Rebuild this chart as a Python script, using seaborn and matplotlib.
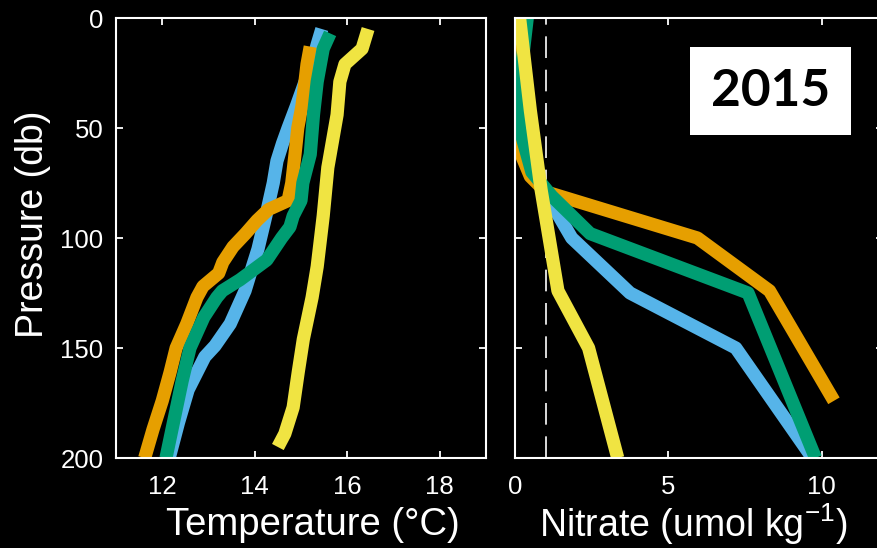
import matplotlib
matplotlib.use("Agg")
import matplotlib.pyplot as plt
from matplotlib.patches import Rectangle
import numpy as np
import pandas as pd
import seaborn as sns

# temperature profiles (pressure in db, temp in degC)
blue_tp = [5, 12, 20, 30, 40, 50, 57, 65, 75, 90, 105, 113, 124, 139, 149, 154, 169, 184, 200]
blue_t = [15.45, 15.35, 15.25, 15.07, 14.9, 14.72, 14.6, 14.48, 14.4, 14.24, 14.07, 13.95,
          13.79, 13.47, 13.14, 12.92, 12.56, 12.35, 12.15]
orange_tp = [13, 21, 30, 40, 50, 62, 75, 83, 87, 92, 98, 104, 111, 116, 122, 127, 139, 150,
             161, 174, 187, 200]
orange_t = [15.2, 15.13, 15.08, 15.02, 14.93, 14.87, 14.8, 14.72, 14.3, 14.05, 13.8, 13.53,
            13.31, 13.22, 12.88, 12.75, 12.53, 12.3, 12.17, 12.0, 11.8, 11.62]
green_tp = [7, 14, 29, 44, 62, 75, 83, 90, 95, 100, 110, 119, 124, 127, 136, 150, 165, 180,
            198, 200]
green_t = [15.63, 15.48, 15.35, 15.27, 15.2, 15.04, 15.0, 14.83, 14.76, 14.58, 14.26, 13.68,
           13.3, 13.18, 12.9, 12.6, 12.43, 12.28, 12.1, 12.08]
yellow_tp = [5, 14, 21, 29, 44, 62, 68, 90, 113, 127, 146, 161, 177, 189, 195]
yellow_t = [16.45, 16.32, 15.95, 15.84, 15.78, 15.63, 15.58, 15.48, 15.35, 15.24, 15.05,
            14.94, 14.83, 14.65, 14.5]

# nitrate profiles (umol/kg)
blue_np = [0, 25, 50, 75, 100, 125, 150, 200]
blue_n = [0.0, 0.05, 0.3, 0.8, 1.85, 3.75, 7.2, 9.7]
orange_np = [0, 30, 50, 62, 72, 79, 100, 124, 174]
orange_n = [0.05, 0.05, 0.1, 0.2, 0.5, 1.0, 5.95, 8.3, 10.4]
green_np = [0, 30, 50, 70, 81, 98, 125, 200]
green_n = [0.4, 0.15, 0.15, 0.55, 1.2, 2.45, 7.6, 9.8]
yellow_np = [0, 42, 78, 124, 150, 200]
yellow_n = [0.15, 0.5, 0.85, 1.4, 2.4, 3.35]

casts = ["blue", "orange", "green", "yellow"]
colors = ["#56B4E9", "#E69F00", "#009E73", "#F0E442"]
year_label = "2015"


def long_df(profiles, col):
    rows = []
    for name, (p, v) in zip(casts, profiles):
        rows.append(pd.DataFrame({"pressure": p, col: v, "cast": name}))
    return pd.concat(rows, ignore_index=True)


temp_df = long_df([(blue_tp, blue_t), (orange_tp, orange_t),
                   (green_tp, green_t), (yellow_tp, yellow_t)], "temp")
nit_df = long_df([(blue_np, blue_n), (orange_np, orange_n),
                  (green_np, green_n), (yellow_np, yellow_n)], "nitrate")

sns.set_theme(style="dark", rc={
    "figure.facecolor": "black", "axes.facecolor": "black",
    "axes.edgecolor": "white", "axes.labelcolor": "white",
    "xtick.color": "white", "ytick.color": "white", "text.color": "white",
    "axes.linewidth": 1.5,
    "xtick.direction": "in", "ytick.direction": "in",
    "xtick.top": True, "ytick.right": True,
    "xtick.bottom": True, "ytick.left": True,
    "xtick.major.size": 5, "ytick.major.size": 5,
    "xtick.major.width": 1.3, "ytick.major.width": 1.3,
    "axes.grid": False,
})
plt.rcParams["font.family"] = ["Liberation Sans", "DejaVu Sans"]
plt.rcParams["mathtext.fontset"] = "custom"
plt.rcParams["mathtext.rm"] = "Liberation Sans"
plt.rcParams["mathtext.it"] = "Liberation Sans:italic"

fig = plt.figure(figsize=(8.77, 5.48), dpi=100)
ax1 = fig.add_axes([116 / 877, 1 - 458 / 548, 370 / 877, 440 / 548])
ax2 = fig.add_axes([515 / 877, 1 - 458 / 548, 368 / 877, 440 / 548])

lw = 9.5
sns.lineplot(data=temp_df, x="temp", y="pressure", hue="cast", hue_order=casts,
             palette=colors, orient="y", estimator=None, lw=lw, legend=False,
             solid_capstyle="butt", solid_joinstyle="round", ax=ax1)
ax2.axvline(1, color="white", lw=1.2, ls=(0, (13, 7)), zorder=1)
sns.lineplot(data=nit_df, x="nitrate", y="pressure", hue="cast", hue_order=casts,
             palette=colors, orient="y", estimator=None, lw=lw, legend=False,
             solid_capstyle="butt", solid_joinstyle="round", ax=ax2)

ax1.set_xlim(11, 19)
ax1.set_xticks([12, 14, 16, 18])
ax2.set_xlim(0, 12)
ax2.set_xticks([0, 5, 10])
for ax in (ax1, ax2):
    ax.set_ylim(200, 0)
    ax.set_yticks([0, 50, 100, 150, 200])
    ax.tick_params(axis="x", labelsize=18.5, pad=12)
    ax.tick_params(axis="y", labelsize=18.5, pad=9)
    for s in ax.spines.values():
        s.set_color("white")
        s.set_linewidth(1.5)

ax2.set_yticklabels([])
ax1.set_ylabel("Pressure (db)", fontsize=27)
ax1.set_xlabel("Temperature (°C)", fontsize=27.5)
ax2.set_ylabel("")
ax2.set_xlabel("Nitrate (umol kg$^{\\mathrm{-1}}$)", fontsize=27)

# label placement (axes fraction)
ax1.yaxis.set_label_coords(-0.225, 0.532)
ax1.xaxis.set_label_coords(0.532, -0.152)
ax2.xaxis.set_label_coords(0.484, -0.150)
ax1.xaxis.label.set_va("center")
ax2.xaxis.label.set_va("center")
ax1.yaxis.label.set_va("center")

# year box
fig.patches.append(Rectangle((690 / 877, 1 - 135 / 548), 161 / 877, 88 / 548,
                             transform=fig.transFigure, facecolor="white",
                             edgecolor="none", zorder=5))
fig.text(771 / 877, 1 - 92 / 548, year_label, fontsize=37, fontweight="bold",
         color="black", ha="center", va="center", family=["Lato", "DejaVu Sans"],
         zorder=6)

fig.savefig("out.png", dpi=100, facecolor="black")
